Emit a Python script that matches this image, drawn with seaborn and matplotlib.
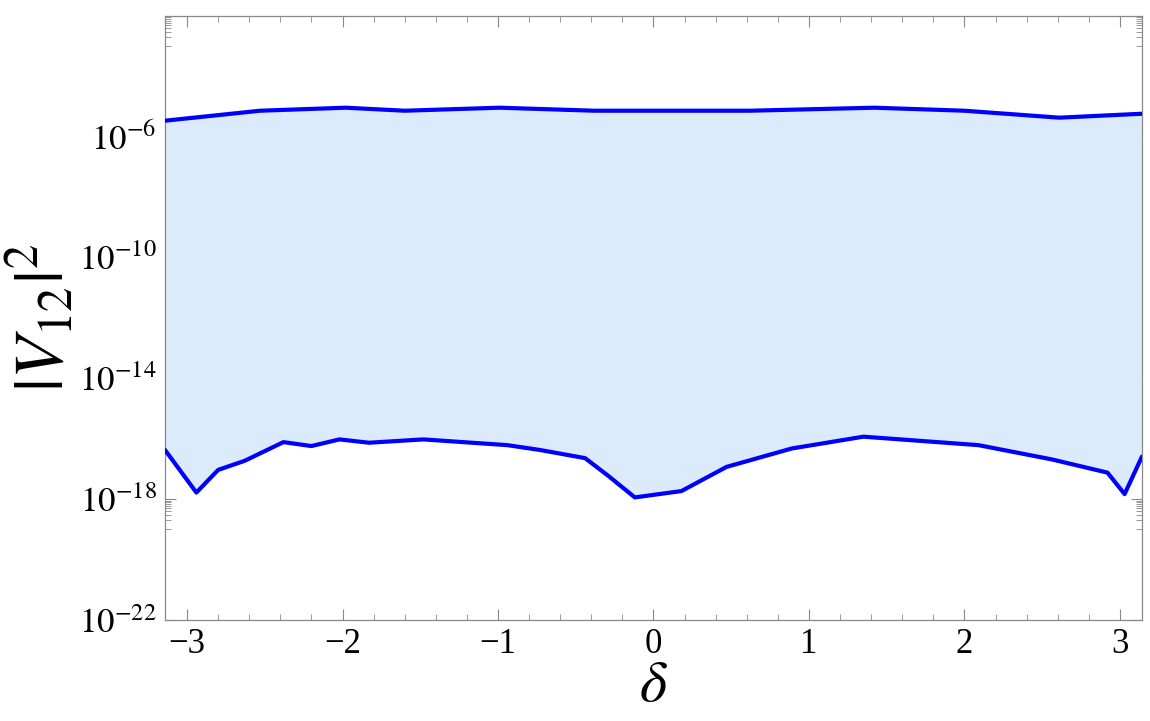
import numpy as np
import pandas as pd
import matplotlib
matplotlib.use("Agg")
import matplotlib.pyplot as plt
import seaborn as sns
from matplotlib.ticker import FixedLocator, NullFormatter

# ── Data ───────────────────────────────────────────────────────────────────────
delta_upper = [-3.1416, -2.53, -1.98, -1.60, -0.99, -0.38, 0.62, 1.42, 2.00, 2.61, 3.1416]
logv_upper  = [-5.47, -5.14, -5.04, -5.14, -5.04, -5.14, -5.14, -5.04, -5.14, -5.37, -5.24]

delta_lower = [-3.1416, -2.94, -2.80, -2.63, -2.38, -2.20, -2.02, -1.83, -1.48,
               -0.94, -0.73, -0.44, -0.29, -0.12, 0.18, 0.47, 0.89, 1.35,
               2.09, 2.56, 2.92, 3.03, 3.1416]
logv_lower  = [-16.37, -17.78, -17.03, -16.73, -16.11, -16.24, -16.02, -16.13, -16.02,
               -16.21, -16.37, -16.64, -17.23, -17.94, -17.73, -16.93, -16.32, -15.93,
               -16.21, -16.68, -17.12, -17.83, -16.59]

major_exp = [-22, -18, -14, -10, -6]
x_major = [-3, -2, -1, 0, 1, 2, 3]

upper = pd.DataFrame({"delta": delta_upper, "V": 10.0 ** np.array(logv_upper)})
lower = pd.DataFrame({"delta": delta_lower, "V": 10.0 ** np.array(logv_lower)})

# ── Style ──────────────────────────────────────────────────────────────────────
sns.set_style("ticks")
plt.rcParams["font.family"] = ["Liberation Serif", "DejaVu Serif"]
plt.rcParams["mathtext.fontset"] = "stix"
plt.rcParams["text.color"] = "black"
plt.rcParams["axes.labelcolor"] = "black"
plt.rcParams["xtick.labelcolor"] = "black"
plt.rcParams["ytick.labelcolor"] = "black"

fig = plt.figure(figsize=(11.5, 7.21), dpi=100)
ax = fig.add_axes([0.1435, 0.140, 0.8495, 0.838])
ax.set_yscale("log")

# shaded region between the two bounds
ax.fill(np.concatenate([upper["delta"], lower["delta"][::-1]]),
        np.concatenate([upper["V"], lower["V"][::-1]]),
        color="#DCEBFB", lw=0, zorder=1)

for d in (upper, lower):
    sns.lineplot(data=d, x="delta", y="V", ax=ax, color="#0000FF",
                 linewidth=3.0, sort=False, estimator=None, zorder=3)

ax.set_xlim(-np.pi, np.pi)
ax.set_ylim(1e-22, 1e-2)

# y ticks: labelled every 4 decades, minor ticks for the decade below each
ax.yaxis.set_major_locator(FixedLocator([10.0 ** e for e in major_exp]))
ax.set_yticklabels([rf"$10^{{{e}}}$" for e in major_exp])
minor_y = []
for e in major_exp + [-2]:
    minor_y += [m * 10.0 ** (e - 1) for m in range(1, 10)]
ax.yaxis.set_minor_locator(FixedLocator(minor_y + [1e-2]))
ax.yaxis.set_minor_formatter(NullFormatter())

ax.xaxis.set_major_locator(FixedLocator(x_major))
ax.set_xticklabels([f"{v}".replace("-", "\u2212") for v in x_major])
ax.xaxis.set_minor_locator(FixedLocator(np.round(np.arange(-3.0, 3.01, 0.2), 2)))

ax.tick_params(which="both", direction="in", top=True, right=True, color="#888888")
ax.tick_params(which="major", length=8, width=0.8, labelsize=25, pad=6)
ax.tick_params(which="minor", length=4, width=0.6)
for sp in ax.spines.values():
    sp.set_color("#888888")
    sp.set_linewidth(0.9)

ax.set_xlabel(r"$\delta$", fontsize=42, labelpad=0)
ax.set_ylabel(r"$|V_{12}|^2$", fontsize=50, labelpad=0)

fig.savefig("out.png", dpi=100)
